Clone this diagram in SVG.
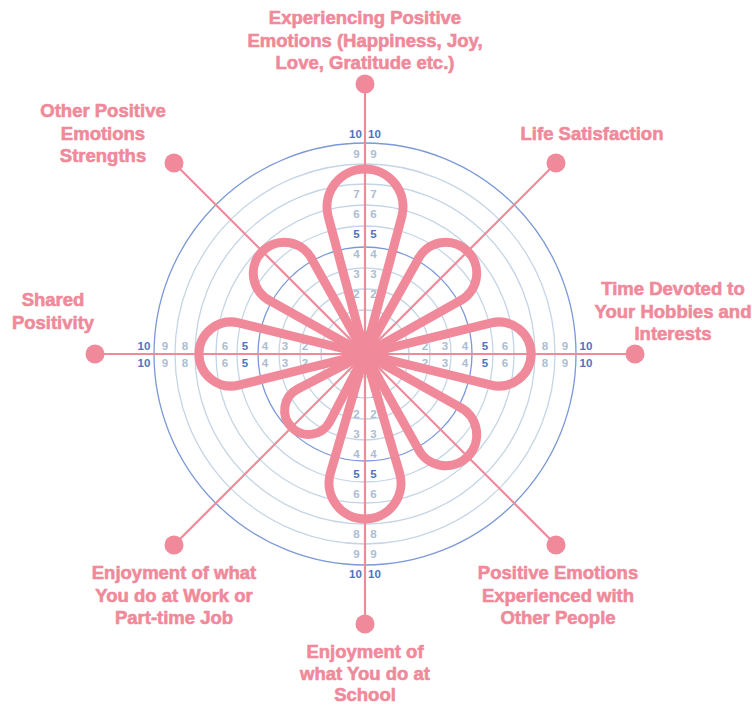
<svg xmlns="http://www.w3.org/2000/svg" width="752" height="706" viewBox="0 0 752 706">
<style>
.ring{fill:none;stroke:#c5d5e6;stroke-width:1.3}
.ringb{fill:none;stroke:#7b99d6;stroke-width:1.3}
.axis{stroke:#f0899a;stroke-width:2.2}
.dot{fill:#f0899a}
.petal{fill:none;stroke:#f0899a;stroke-width:9;stroke-linejoin:round}
.n{font-family:"Liberation Sans",Arial,sans-serif;font-weight:700;font-size:11.5px;fill:#abbdd2;text-anchor:middle}
.nb{fill:#4f74bd}
.lbl{font-family:"Liberation Sans",Arial,sans-serif;font-weight:700;font-size:18.5px;fill:#f0899a;stroke:#f0899a;stroke-width:0.6;text-anchor:middle}
</style>
<rect width="752" height="706" fill="#fff"/>
<g id="rings">
<circle class="ring" cx="365" cy="354" r="23"/>
<circle class="ring" cx="365" cy="354" r="44"/>
<circle class="ring" cx="365" cy="354" r="65"/>
<circle class="ring" cx="365" cy="354" r="86"/>
<circle class="ringb" cx="365" cy="354" r="107"/>
<circle class="ring" cx="365" cy="354" r="128"/>
<circle class="ring" cx="365" cy="354" r="149"/>
<circle class="ring" cx="365" cy="354" r="170"/>
<circle class="ring" cx="365" cy="354" r="190"/>
<circle class="ringb" cx="365" cy="354" r="211"/>
</g>
<g id="connectors">
<line class="axis" x1="365" y1="354" x2="365" y2="84"/>
<line class="axis" x1="365" y1="354" x2="556" y2="163"/>
<line class="axis" x1="365" y1="354" x2="635" y2="354"/>
<line class="axis" x1="365" y1="354" x2="556" y2="545"/>
<line class="axis" x1="365" y1="354" x2="365" y2="624"/>
<line class="axis" x1="365" y1="354" x2="174" y2="545"/>
<line class="axis" x1="365" y1="354" x2="95" y2="354"/>
<line class="axis" x1="365" y1="354" x2="174" y2="163"/>
</g>
<g id="scale-labels">
<text class="n" x="356.5" y="298">2</text><text class="n" x="373.5" y="298">2</text>
<text class="n" x="356.5" y="278">3</text><text class="n" x="373.5" y="278">3</text>
<text class="n" x="356.5" y="258">4</text><text class="n" x="373.5" y="258">4</text>
<text class="n nb" x="356.5" y="238">5</text><text class="n nb" x="373.5" y="238">5</text>
<text class="n" x="356.5" y="218">6</text><text class="n" x="373.5" y="218">6</text>
<text class="n" x="356.5" y="198">7</text><text class="n" x="373.5" y="198">7</text>
<text class="n" x="356.5" y="158">9</text><text class="n" x="373.5" y="158">9</text>
<text class="n nb" x="355.5" y="138">10</text><text class="n nb" x="374.5" y="138">10</text>
<text class="n" x="356.5" y="398">1</text><text class="n" x="373.5" y="398">1</text>
<text class="n" x="356.5" y="418">2</text><text class="n" x="373.5" y="418">2</text>
<text class="n" x="356.5" y="438">3</text><text class="n" x="373.5" y="438">3</text>
<text class="n" x="356.5" y="458">4</text><text class="n" x="373.5" y="458">4</text>
<text class="n nb" x="356.5" y="478">5</text><text class="n nb" x="373.5" y="478">5</text>
<text class="n" x="356.5" y="498">6</text><text class="n" x="373.5" y="498">6</text>
<text class="n" x="356.5" y="538">8</text><text class="n" x="373.5" y="538">8</text>
<text class="n" x="356.5" y="558">9</text><text class="n" x="373.5" y="558">9</text>
<text class="n nb" x="355.5" y="578">10</text><text class="n nb" x="374.5" y="578">10</text>
<text class="n" x="425" y="349.5">2</text><text class="n" x="425" y="366.5">2</text>
<text class="n" x="445" y="349.5">3</text><text class="n" x="445" y="366.5">3</text>
<text class="n" x="465" y="349.5">4</text><text class="n" x="465" y="366.5">4</text>
<text class="n nb" x="485" y="349.5">5</text><text class="n nb" x="485" y="366.5">5</text>
<text class="n" x="505" y="349.5">6</text><text class="n" x="505" y="366.5">6</text>
<text class="n" x="545" y="349.5">8</text><text class="n" x="545" y="366.5">8</text>
<text class="n" x="565" y="349.5">9</text><text class="n" x="565" y="366.5">9</text>
<text class="n nb" x="586" y="349.5">10</text><text class="n nb" x="586" y="366.5">10</text>
<text class="n" x="305" y="349.5">2</text><text class="n" x="305" y="366.5">2</text>
<text class="n" x="285" y="349.5">3</text><text class="n" x="285" y="366.5">3</text>
<text class="n" x="265" y="349.5">4</text><text class="n" x="265" y="366.5">4</text>
<text class="n nb" x="245" y="349.5">5</text><text class="n nb" x="245" y="366.5">5</text>
<text class="n" x="225" y="349.5">6</text><text class="n" x="225" y="366.5">6</text>
<text class="n" x="185" y="349.5">8</text><text class="n" x="185" y="366.5">8</text>
<text class="n" x="165" y="349.5">9</text><text class="n" x="165" y="366.5">9</text>
<text class="n nb" x="144" y="349.5">10</text><text class="n nb" x="144" y="366.5">10</text>
</g>
<g id="petals" transform="translate(365,354)">
<path class="petal" d="M0,0 L-36.71,-137.18 A38,38 0 1 1 36.71,-137.18 Z"/>
<path class="petal" transform="rotate(45)" d="M0,0 L-29.15,-103.6 A31,31 0 1 1 29.15,-103.6 Z"/>
<path class="petal" transform="rotate(90)" d="M0,0 L-31.07,-126.36 A32,32 0 1 1 31.07,-126.36 Z"/>
<path class="petal" transform="rotate(135)" d="M0,0 L-29.15,-103.6 A31,31 0 1 1 29.15,-103.6 Z"/>
<path class="petal" transform="rotate(180)" d="M0,0 L-34.57,-118.95 A36,36 0 1 1 34.57,-118.95 Z"/>
<path class="petal" transform="rotate(225)" d="M0,0 L-22.98,-72.8 A24,24 0 1 1 22.98,-72.8 Z"/>
<path class="petal" transform="rotate(270)" d="M0,0 L-31.07,-126.36 A32,32 0 1 1 31.07,-126.36 Z"/>
<path class="petal" transform="rotate(315)" d="M0,0 L-29.15,-103.6 A31,31 0 1 1 29.15,-103.6 Z"/>
</g>
<g id="node-top">
<circle class="dot" cx="365" cy="84" r="9.5"/>
<text class="lbl"><tspan x="365" y="24">Experiencing Positive</tspan><tspan x="365" y="46.5">Emotions (Happiness, Joy,</tspan><tspan x="365" y="69">Love, Gratitude etc.)</tspan></text>
</g>
<g id="node-top-right">
<circle class="dot" cx="556" cy="163" r="9.5"/>
<text class="lbl" x="592" y="140">Life Satisfaction</text>
</g>
<g id="node-right">
<circle class="dot" cx="635" cy="354" r="9.5"/>
<text class="lbl"><tspan x="673" y="295">Time Devoted to</tspan><tspan x="673" y="317.5">Your Hobbies and</tspan><tspan x="673" y="340">Interests</tspan></text>
</g>
<g id="node-bottom-right">
<circle class="dot" cx="556" cy="545" r="9.5"/>
<text class="lbl"><tspan x="558" y="579">Positive Emotions</tspan><tspan x="558" y="601.5">Experienced with</tspan><tspan x="558" y="624">Other People</tspan></text>
</g>
<g id="node-bottom">
<circle class="dot" cx="365" cy="624" r="9.5"/>
<text class="lbl"><tspan x="365" y="658">Enjoyment of</tspan><tspan x="365" y="679.5">what You do at</tspan><tspan x="365" y="701">School</tspan></text>
</g>
<g id="node-bottom-left">
<circle class="dot" cx="174" cy="545" r="9.5"/>
<text class="lbl"><tspan x="174" y="579">Enjoyment of what</tspan><tspan x="174" y="601.5">You do at Work or</tspan><tspan x="174" y="624">Part-time Job</tspan></text>
</g>
<g id="node-left">
<circle class="dot" cx="95" cy="354" r="9.5"/>
<text class="lbl"><tspan x="53" y="306">Shared</tspan><tspan x="53" y="328.5">Positivity</tspan></text>
</g>
<g id="node-top-left">
<circle class="dot" cx="174" cy="163" r="9.5"/>
<text class="lbl"><tspan x="103" y="117">Other Positive</tspan><tspan x="103" y="139.5">Emotions</tspan><tspan x="103" y="162">Strengths</tspan></text>
</g>
</svg>
